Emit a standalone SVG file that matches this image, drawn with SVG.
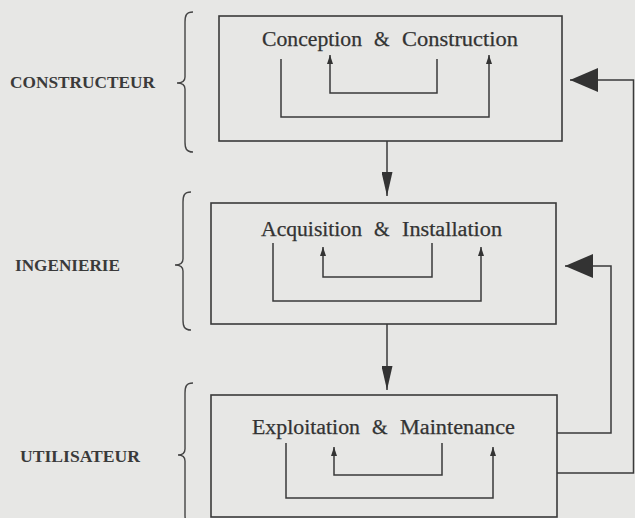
<svg xmlns="http://www.w3.org/2000/svg" width="635" height="518" viewBox="0 0 635 518">
  <style>
    .bg { fill: #e7e7e5; }
    .box { fill: none; stroke: #3a3a3a; stroke-width: 1.6; }
    .ln { fill: none; stroke: #3a3a3a; stroke-width: 1.5; }
    .brace { fill: none; stroke: #444; stroke-width: 1.4; }
    .title { font-family: "Liberation Serif", "Times New Roman", serif; font-size: 20px; fill: #333; stroke: #333; stroke-width: 0.25; }
    .role { font-family: "Liberation Serif", "Times New Roman", serif; font-size: 17px; fill: #3a3a3a; font-weight: bold; }
    .head { fill: #333; }
  </style>
  <defs>
    <marker id="small" viewBox="0 0 10 10" refX="10" refY="5" markerWidth="9" markerHeight="6" markerUnits="userSpaceOnUse" orient="auto" preserveAspectRatio="none">
      <path d="M0,0 L10,5 L0,10 Z" class="head"/>
    </marker>
    <marker id="down" viewBox="0 0 10 10" refX="10" refY="5" markerWidth="24" markerHeight="11" markerUnits="userSpaceOnUse" orient="auto" preserveAspectRatio="none">
      <path d="M0,0 L10,5 L0,10 Z" class="head"/>
    </marker>
    <marker id="big" viewBox="0 0 10 10" refX="10" refY="5" markerWidth="28" markerHeight="24" markerUnits="userSpaceOnUse" orient="auto" preserveAspectRatio="none">
      <path d="M0,0 L10,5 L0,10 Z" class="head"/>
    </marker>
  </defs>

  <rect class="bg" x="0" y="0" width="635" height="518"/>

  <!-- role labels with braces -->
  <g id="constructeur">
    <text class="role" x="10" y="88" textLength="145" lengthAdjust="spacingAndGlyphs">CONSTRUCTEUR</text>
    <path class="brace" d="M193,12 C186,12 185,16 185,22 L185,77 C185,81 182,83 177,83 C182,83 185,85 185,89 L185,142 C185,148 186,152 193,152"/>
  </g>
  <g id="ingenierie">
    <text class="role" x="15" y="271" textLength="105" lengthAdjust="spacingAndGlyphs">INGENIERIE</text>
    <path class="brace" d="M191,192 C184,192 183,196 183,202 L183,259 C183,263 180,265 175,265 C180,265 183,267 183,271 L183,320 C183,326 184,330 191,330"/>
  </g>
  <g id="utilisateur">
    <text class="role" x="20" y="462" textLength="120" lengthAdjust="spacingAndGlyphs">UTILISATEUR</text>
    <path class="brace" d="M193,383 C186,383 185,387 185,393 L185,449 C185,453 182,455 178,455 C182,455 185,457 185,461 L185,515 C185,521 186,525 193,525"/>
  </g>

  <!-- phase boxes with their internal loops -->
  <g id="conception">
    <rect class="box" x="219" y="16" width="343" height="125"/>
    <text class="title" y="45.5"><tspan x="262" textLength="100" lengthAdjust="spacingAndGlyphs">Conception</tspan> <tspan x="374">&amp;</tspan> <tspan x="402" textLength="116" lengthAdjust="spacingAndGlyphs">Construction</tspan></text>
    <path class="ln" d="M281,59 L281,117 L489,117 L489,55" marker-end="url(#small)"/>
    <path class="ln" d="M437,59 L437,93 L330,93 L330,55" marker-end="url(#small)"/>
  </g>
  <g id="acquisition">
    <rect class="box" x="211" y="203" width="345" height="121"/>
    <text class="title" y="236"><tspan x="261" textLength="101" lengthAdjust="spacingAndGlyphs">Acquisition</tspan> <tspan x="374">&amp;</tspan> <tspan x="402" textLength="100" lengthAdjust="spacingAndGlyphs">Installation</tspan></text>
    <path class="ln" d="M273,243 L273,301 L481,301 L481,247" marker-end="url(#small)"/>
    <path class="ln" d="M432,243 L432,277 L323,277 L323,247" marker-end="url(#small)"/>
  </g>
  <g id="exploitation">
    <rect class="box" x="211" y="395" width="346" height="122"/>
    <text class="title" y="434"><tspan x="252" textLength="108" lengthAdjust="spacingAndGlyphs">Exploitation</tspan> <tspan x="372">&amp;</tspan> <tspan x="400" textLength="115" lengthAdjust="spacingAndGlyphs">Maintenance</tspan></text>
    <path class="ln" d="M286,443 L286,498 L493,498 L493,447" marker-end="url(#small)"/>
    <path class="ln" d="M442,443 L442,475 L334,475 L334,447" marker-end="url(#small)"/>
  </g>

  <!-- connectors between phases and feedback paths -->
  <g id="connectors">
    <path class="ln" d="M387,141 L387,196" marker-end="url(#down)"/>
    <path class="ln" d="M387,324 L387,390" marker-end="url(#down)"/>
    <path class="ln" d="M557,433 L611,433 L611,266 L565,266" marker-end="url(#big)"/>
    <path class="ln" d="M557,473 L633.5,473 L633.5,80 L570,80" marker-end="url(#big)"/>
  </g>
</svg>
